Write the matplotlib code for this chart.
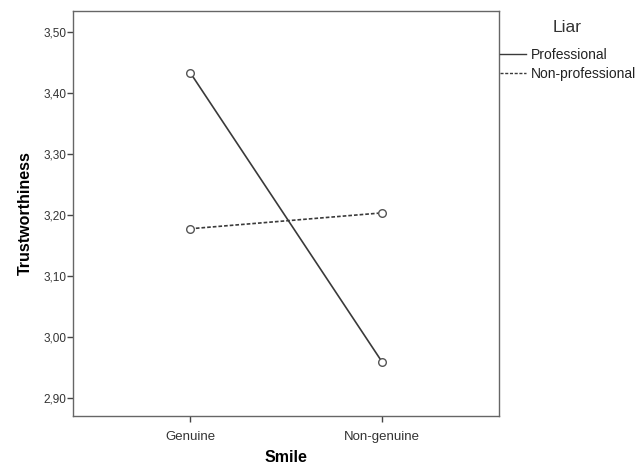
import numpy as np
import matplotlib
matplotlib.use('Agg')
import matplotlib.pyplot as plt

plt.rcParams['font.family'] = ['Liberation Sans', 'DejaVu Sans']

smile = ['Genuine', 'Non-genuine']
professional = [3.433, 2.959]
non_professional = [3.177, 3.203]
yticks = [2.90, 3.00, 3.10, 3.20, 3.30, 3.40, 3.50]

fig = plt.figure(figsize=(6.44, 4.72), dpi=100)
ax = fig.add_axes([0.1134, 0.1186, 0.6616, 0.8581])

x = np.arange(len(smile))
ax.plot(x, professional, '-', color='#3a3a3a', lw=1.2, marker='o', ms=5.5,
        mfc='white', mec='#555555', mew=1.0, label='Professional')
ax.plot(x, non_professional, linestyle=(0, (2.2, 1.2)), color='#3a3a3a', lw=1.2,
        marker='o', ms=5.5, mfc='white', mec='#555555', mew=1.0,
        label='Non-professional')

ax.set_xlim(-0.611, 1.611)
ax.set_ylim(2.870, 3.534)
ax.set_xticks(x)
ax.set_xticklabels(smile)
ax.set_yticks(yticks)
ax.set_yticklabels([('%.2f' % v).replace('.', ',') for v in yticks])

for s in ax.spines.values():
    s.set_color('#666666')
    s.set_linewidth(1.0)
ax.tick_params(axis='both', colors='#444444', length=4, width=1.0,
               direction='out')
ax.tick_params(axis='y', pad=1, labelsize=8.5)
ax.tick_params(axis='x', pad=7, labelsize=9.5)
for t in ax.get_xticklabels() + ax.get_yticklabels():
    t.set_color('#333333')

ax.set_ylabel('Trustworthiness', fontsize=11.5, fontweight='bold', labelpad=7)
ax.set_xlabel('Smile', fontsize=11.5, fontweight='bold', labelpad=5)

# legend title placed separately (SPSS puts a bigger gap under it)
fig.text(567 / 644, 1 - 28 / 472, 'Liar', fontsize=12.5, color='#333333',
         ha='center', va='center')
leg = ax.legend(loc='upper left', bbox_to_anchor=(1.002, 0.909), frameon=False,
                fontsize=10, handlelength=1.87, handletextpad=0.36,
                labelspacing=0.37, borderaxespad=0, borderpad=0, markerscale=0)
for h in leg.get_lines():
    h.set_marker('')
    h.set_linewidth(1.0)
for t in leg.get_texts():
    t.set_color('#222222')

fig.savefig('out.png', dpi=100)
